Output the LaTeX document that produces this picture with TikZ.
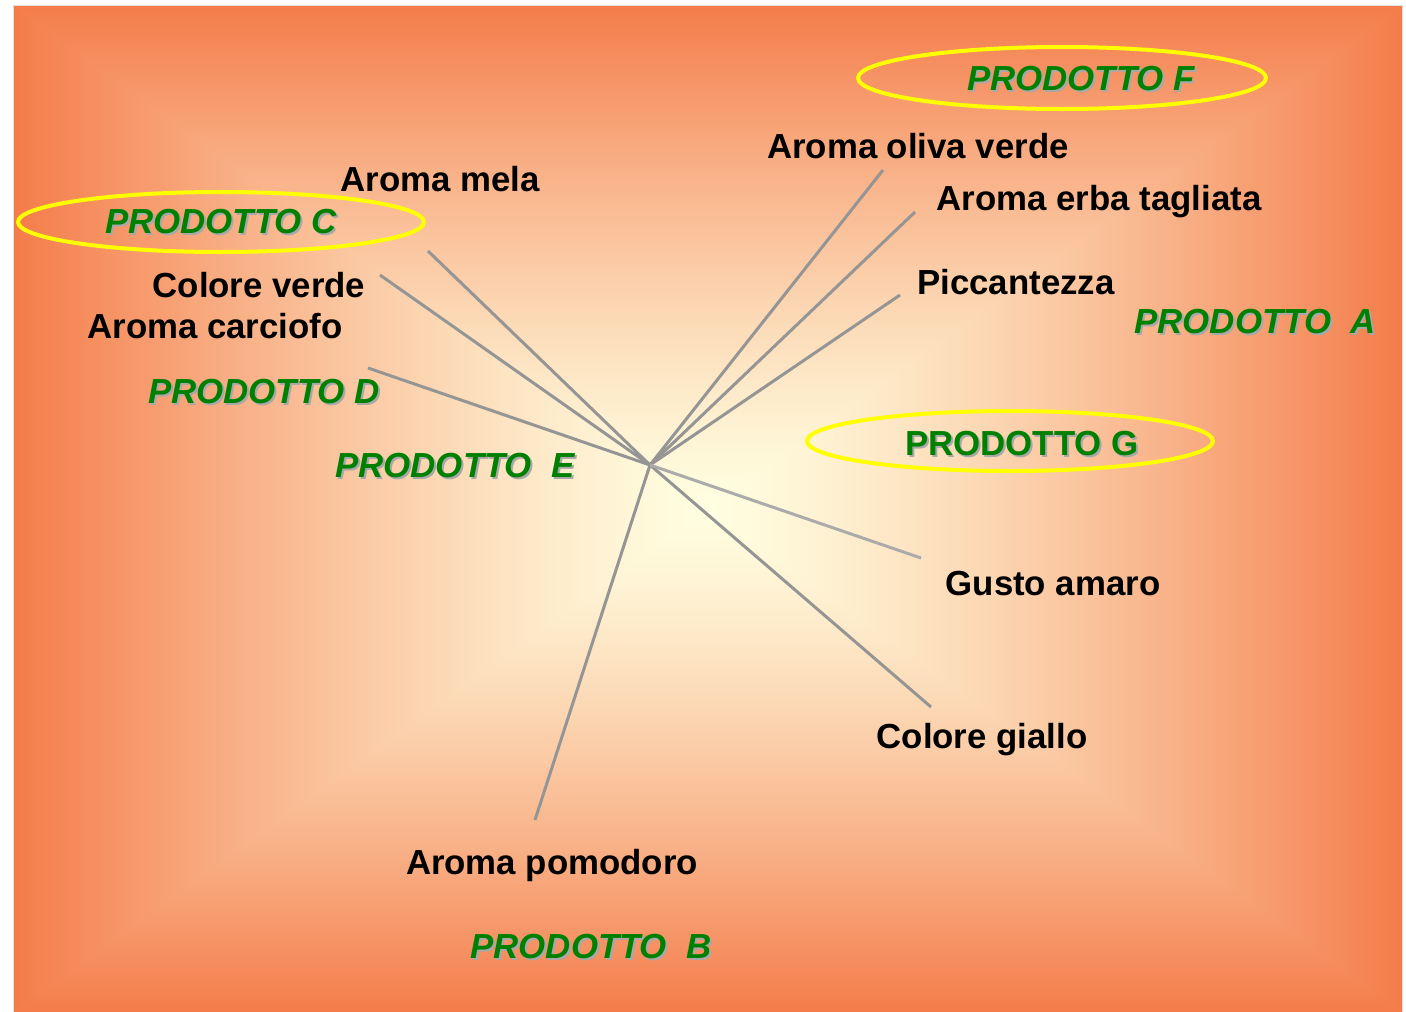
\documentclass[tikz,border=0pt]{standalone}
\usepackage{fontspec}
\setmainfont{Liberation Sans}
\usepackage{xcolor}
\usepackage{tikz}
\definecolor{frame}{HTML}{E8DED8}
\definecolor{spoke}{HTML}{959595}
\definecolor{spokelight}{HTML}{ABABAB}
\definecolor{prodgreen}{HTML}{008000}
\definecolor{ringyellow}{HTML}{FFFF00}
\definecolor{shadowgray}{HTML}{A8A8A8}
% pale centre fading to orange at the edges, rectangular
\pgfdeclarefunctionalshading{rectglow}{\pgfpoint{-50bp}{-50bp}}{\pgfpoint{50bp}{50bp}}{}{
  abs 25 div exch abs 25 div 2 copy lt {exch} if pop
  dup 1 gt {pop 1} if 1.3 exp
  dup 0.043 mul 1 exch sub exch dup 0.51 mul 0.996 exch sub exch 0.59 mul 0.88 exch sub
}
\newcommand{\shadowed}[1]{\rlap{\textcolor{shadowgray}{\kern2pt\raisebox{-2pt}{#1}}}#1}
\tikzset{
  spokeline/.style={line width=3pt, draw=spoke},
  halo/.style={line width=4pt, draw=ringyellow},
  attr/.style={anchor=base, inner sep=0pt, text=black, font=\fontsize{34.8}{40}\selectfont\bfseries},
  prod/.style={anchor=base, inner sep=0pt, text=prodgreen, font=\fontsize{34.8}{40}\selectfont\bfseries\itshape},
  produp/.style={prod, font=\fontsize{34.8}{40}\selectfont\bfseries\upshape}
}
\begin{document}
\begin{tikzpicture}[x=1pt,y=-1pt]
  \useasboundingbox (0,0) rectangle (1406,1012);
  \fill[white] (0,0) rectangle (1406,1012);
  \shade[shading=rectglow] (14,6) rectangle (1402,1012);
  \draw[frame, line width=1pt] (13.5,1012) -- (13.5,5.5) -- (1402.5,5.5) -- (1402.5,1012);

  \coordinate (hub) at (650,465);
  \coordinate (mela) at (428,251);
  \coordinate (cverde) at (380,275);
  \coordinate (carciofo) at (368,368);
  \coordinate (oliva) at (883,170);
  \coordinate (erba) at (915,212);
  \coordinate (picc) at (900,295);
  \coordinate (amaro) at (921,558);
  \coordinate (giallo) at (931,707);
  \coordinate (pomodoro) at (535,820);

  \foreach \e in {mela,cverde,carciofo,oliva,erba,picc,giallo,pomodoro}
    \draw[spokeline] (hub) -- (\e);
  \draw[spokeline, draw=spokelight] (hub) -- (amaro);

  \draw[halo] (1062,78) ellipse [x radius=204, y radius=31];
  \draw[halo] (221,222) ellipse [x radius=203, y radius=30];
  \draw[halo] (1010,441) ellipse [x radius=203, y radius=30];

  \node[attr] (tmela) at (440,191) {Aroma mela};
  \node[attr] (tcverde) at (259,297) {Colore verde};
  \node[attr] (tcarciofo) at (215,338) {Aroma carciofo};
  \node[attr] (toliva) at (918,158) {Aroma oliva verde};
  \node[attr] (terba) at (1099,210) {Aroma erba tagliata};
  \node[attr] (tpicc) at (1016,294) {Piccantezza};
  \node[attr] (tamaro) at (1053,595) {Gusto amaro};
  \node[attr] (tgiallo) at (982,748) {Colore giallo};
  \node[attr] (tpomodoro) at (552,874) {Aroma pomodoro};

  \node[prod] (pF) at (1081,90) {\shadowed{PRODOTTO F}};
  \node[prod] (pC) at (221,233) {\shadowed{PRODOTTO C}};
  \node[produp] (pG) at (1022,455) {\shadowed{PRODOTTO G}};
  \node[prod] (pA) at (1255,333) {\shadowed{PRODOTTO\ \ A}};
  \node[prod] (pD) at (264,403) {\shadowed{PRODOTTO D}};
  \node[prod] (pE) at (455,477) {\shadowed{PRODOTTO\ \ E}};
  \node[prod] (pB) at (591,958) {\shadowed{PRODOTTO\ \ B}};
\end{tikzpicture}
\end{document}
